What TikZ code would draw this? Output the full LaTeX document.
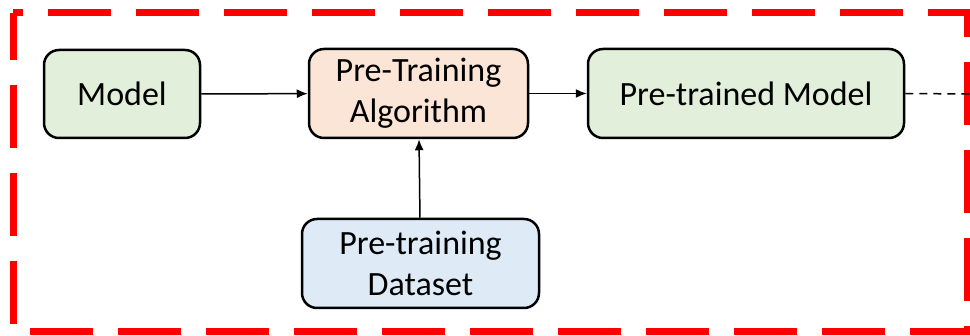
\documentclass[tikz,border=0pt]{standalone}
\usepackage{fontspec}
\setmainfont{Carlito}
\usetikzlibrary{arrows.meta}
\definecolor{boxgreen}{HTML}{E2EFDA}
\definecolor{boxorange}{HTML}{FBE5D6}
\definecolor{boxblue}{HTML}{DEEBF7}
\tikzset{
  blk/.style={draw=black, line width=2.5pt, rounded corners=15pt, align=center,
    font=\fontsize{34}{41}\selectfont, inner sep=0pt},
  conn/.style={line width=1.5pt, -{Latex[length=11pt,width=9pt]}},
}
\begin{document}
\begin{tikzpicture}[x=1pt,y=-1pt]
\useasboundingbox (0,0) rectangle (970,336);
\draw[red, line width=7pt, dash pattern=on 63pt off 25pt, dash phase=16pt] (13,13) rectangle (967,332);
\node[blk, fill=boxgreen, minimum width=156pt, minimum height=88pt] (model) at (122,94) {Model};
\node[blk, fill=boxorange, minimum width=219pt, minimum height=89pt] (algo) at (418.5,93.5) {Pre-Training\\Algorithm};
\node[blk, fill=boxblue, minimum width=237pt, minimum height=89pt] (data) at (420.5,263.5) {Pre-training\\Dataset};
\node[blk, fill=boxgreen, minimum width=316pt, minimum height=89pt] (ptm) at (746,93.5) {Pre-trained Model};
\coordinate (out) at (970,94);
\draw[conn] (model) -- (algo);
\draw[conn] (algo) -- (ptm);
\draw[conn] (data) -- (algo);
\draw[line width=1.5pt, dash pattern=on 8pt off 6pt] (ptm.east) -- (out);
\end{tikzpicture}
\end{document}
